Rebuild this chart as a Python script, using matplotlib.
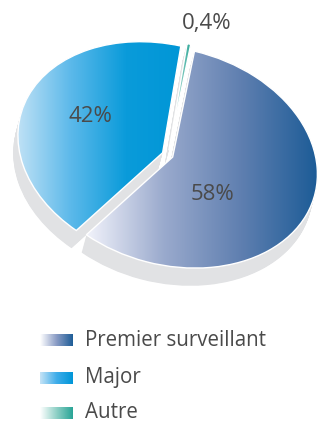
import numpy as np
import matplotlib
matplotlib.use("Agg")
import matplotlib.pyplot as plt
from matplotlib.colors import LinearSegmentedColormap
from matplotlib.patches import Wedge
from matplotlib.transforms import Affine2D

# Data
categories = ["Premier surveillant", "Autre", "Major"]
shares = [58, 0.4, 42]
share_labels = ["58%", "0,4%", "42%"]
legend_order = ["Premier surveillant", "Major", "Autre"]

# Styles
gradients = {
    "Premier surveillant": ["#f2f3fb", "#9aaacd", "#5f7fb0", "#1b5b96"],
    "Major": ["#c4e3f6", "#5cb9ea", "#0a9bda", "#0096d6"],
    "Autre": ["#f4fbfa", "#8fd0c6", "#2aa597"],
}
legend_gradients = {
    "Premier surveillant": ["#ffffff", "#8a9cc5", "#1f5e98"],
    "Major": ["#c4e3f6", "#40adea", "#0096d8"],
    "Autre": ["#ffffff", "#8fd0c6", "#2aa597"],
}
explode = [0.035, 0.045, 0.04]
TEXT = "#4a4a4a"
SHADOW = "#e1e2e4"
FONT = ["Open Sans", "DejaVu Sans"]

W, H, DPI = 321, 424, 100
fig = plt.figure(figsize=(W / DPI, H / DPI), dpi=DPI)
fig.patch.set_facecolor("white")

# Tilted pie: unit circle -> rotated ellipse in pixel space
cx, cy, a, b, tilt = 168, 155, 147, 108, -15


def disc(shift=0.0):
    return (Affine2D().translate(0, -shift).scale(a, b).rotate_deg(tilt)
            .scale(1, -1).translate(cx, cy))


ax = fig.add_axes([0, 0, 1, 1])
wedges, _ = ax.pie(shares, explode=explode, startangle=244.5, counterclock=True,
                   wedgeprops=dict(linewidth=0))

# Extruded depth below the pie
depth = 0.17
for k in np.linspace(depth, 0.0, 28):
    for w in wedges:
        s = Wedge(w.center, w.r, w.theta1, w.theta2,
                  facecolor=SHADOW, edgecolor="none", zorder=1)
        ax.add_patch(s)
        s.set_transform(disc(k) + ax.transData)

# Gradient-filled top faces
grad = np.linspace(0, 1, 256).reshape(1, -1)
for w, name in zip(wedges, categories):
    T = disc()
    w.set_transform(T + ax.transData)
    w.set_facecolor("none")
    w.set_edgecolor("white")
    w.set_linewidth(1.0)
    w.set_zorder(4)
    pts = T.transform(w.get_path().vertices)
    cmap = LinearSegmentedColormap.from_list(name, gradients[name])
    im = ax.imshow(grad, cmap=cmap, aspect="auto", interpolation="bilinear",
                   extent=(pts[:, 0].min(), pts[:, 0].max(),
                           pts[:, 1].max(), pts[:, 1].min()), zorder=3)
    im.set_clip_path(w)

# Percentage labels
label_pos = {"Premier surveillant": (213, 195), "Autre": (207, 24), "Major": (90, 117)}
for name, lab in zip(categories, share_labels):
    ax.text(*label_pos[name], lab, ha="center", va="center", fontsize=16,
            color=TEXT, family=FONT, zorder=6)

# Legend with gradient swatches
rows = [340, 378, 413]
for name, yc in zip(legend_order, rows):
    cmap = LinearSegmentedColormap.from_list("lg" + name, legend_gradients[name])
    ax.imshow(np.linspace(0, 1, 64).reshape(1, -1), cmap=cmap, aspect="auto",
              interpolation="bilinear", extent=(40, 73, yc + 6, yc - 6))
    ax.text(85, yc, name, ha="left", va="center", fontsize=14.8, color=TEXT,
            family=FONT)

ax.set_xlim(0, W)
ax.set_ylim(H, 0)
ax.set_aspect("auto")
ax.axis("off")

fig.savefig("out.png", dpi=DPI, facecolor="white")
